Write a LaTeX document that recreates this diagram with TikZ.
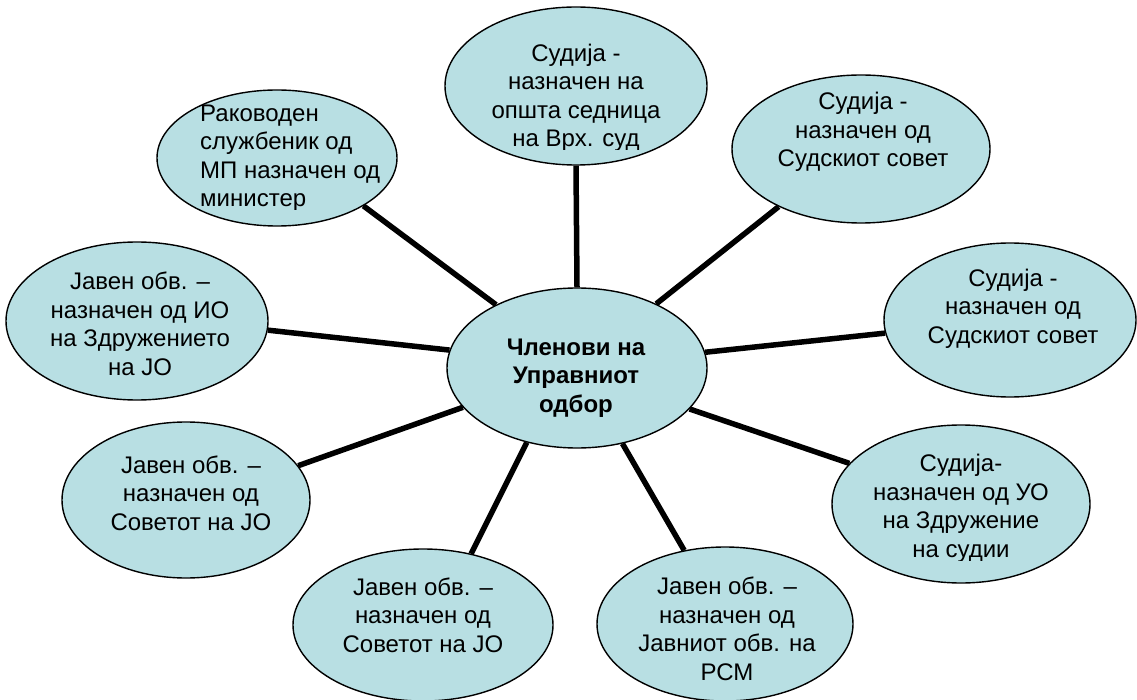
\documentclass[tikz,border=0pt]{standalone}
\usepackage{fontspec}
\setmainfont{Liberation Sans}
\usetikzlibrary{shapes.geometric}
\definecolor{ovalfill}{RGB}{184,223,227}
\begin{document}
\begin{tikzpicture}[x=1pt,y=-1pt,
  oval/.style={ellipse, draw=black, line width=1.4pt, fill=ovalfill, inner sep=0pt},
  lbl/.style={align=center, inner sep=0pt, anchor=base, font=\fontsize{24}{28.5}\selectfont},
  lblL/.style={align=left, inner sep=0pt, anchor=base west, font=\fontsize{24}{28.5}\selectfont},
  lblB/.style={align=center, inner sep=0pt, anchor=base, font=\fontsize{24}{28.5}\selectfont\bfseries},
  link/.style={line width=5.5pt, draw=black}]
\useasboundingbox (0,0) rectangle (1137,700);
% ovals
\node[oval, minimum width=262pt, minimum height=158pt] (T)  at (576,86)  {};
\node[oval, minimum width=240pt, minimum height=136pt] (TL) at (277,158) {};
\node[oval, minimum width=258pt, minimum height=148pt] (TR) at (861,149) {};
\node[oval, minimum width=262pt, minimum height=158pt] (L)  at (137,321) {};
\node[oval, minimum width=252pt, minimum height=154pt] (R)  at (1010,320) {};
\node[oval, minimum width=260pt, minimum height=160pt] (C)  at (577,368) {};
\node[oval, minimum width=258pt, minimum height=158pt] (BR) at (961,504) {};
\node[oval, minimum width=256pt, minimum height=154pt] (B)  at (725,624) {};
\node[oval, minimum width=260pt, minimum height=152pt] (BL) at (423,625) {};
\node[oval, minimum width=248pt, minimum height=156pt] (LL) at (186,500) {};
% connectors
\draw[link] (C.north) -- (T.south);
\draw[link] (C.142) -- (TL.331);
\draw[link] (C.39) -- (TR.215);
\draw[link] (C.172) -- (L.356);
\draw[link] (C.7) -- (R.186);
\draw[link] (C.199) -- (LL.17);
\draw[link] (C.340) -- (BR.160);
\draw[link] (C.236) -- (BL.56);
\draw[link] (C.301) -- (B.119);
% texts (anchor base = baseline of the last line)
\begin{scope}
  \clip (440,0) rectangle (712,150);
  \node[lbl] (tT) at (576,147) {Судија -\\назначен на\\општа седница\\на Врх. суд};
\end{scope}
\begin{scope}
  \clip (150,80) rectangle (400,210);
  \node[lblL] (tTL) at (200,207) {Раководен\\службеник од\\МП назначен од\\министер};
\end{scope}
\node[lbl] (tTR) at (863,167) {Судија -\\назначен од\\Судскиот совет};
\node[lbl] (tL) at (140,375) {Јавен обв. –\\назначен од ИО\\на Здружението\\на ЈО};
\node[lbl] (tR) at (1013,343) {Судија -\\назначен од\\Судскиот совет};
\node[lblB] (tC) at (576,412) {Членови на\\Управниот\\одбор};
\begin{scope}
  \clip (820,420) rectangle (1100,560);
  \node[lbl] (tBR) at (961,557) {Судија-\\назначен од УО\\на Здружение\\на судии};
\end{scope}
\node[lbl] (tB) at (727,680) {Јавен обв. –\\назначен од\\Јавниот обв. на\\РСМ};
\node[lbl] (tBL) at (423,652) {Јавен обв. –\\назначен од\\Советот на ЈО};
\node[lbl] (tLL) at (191,530) {Јавен обв. –\\назначен од\\Советот на ЈО};
\end{tikzpicture}
\end{document}
